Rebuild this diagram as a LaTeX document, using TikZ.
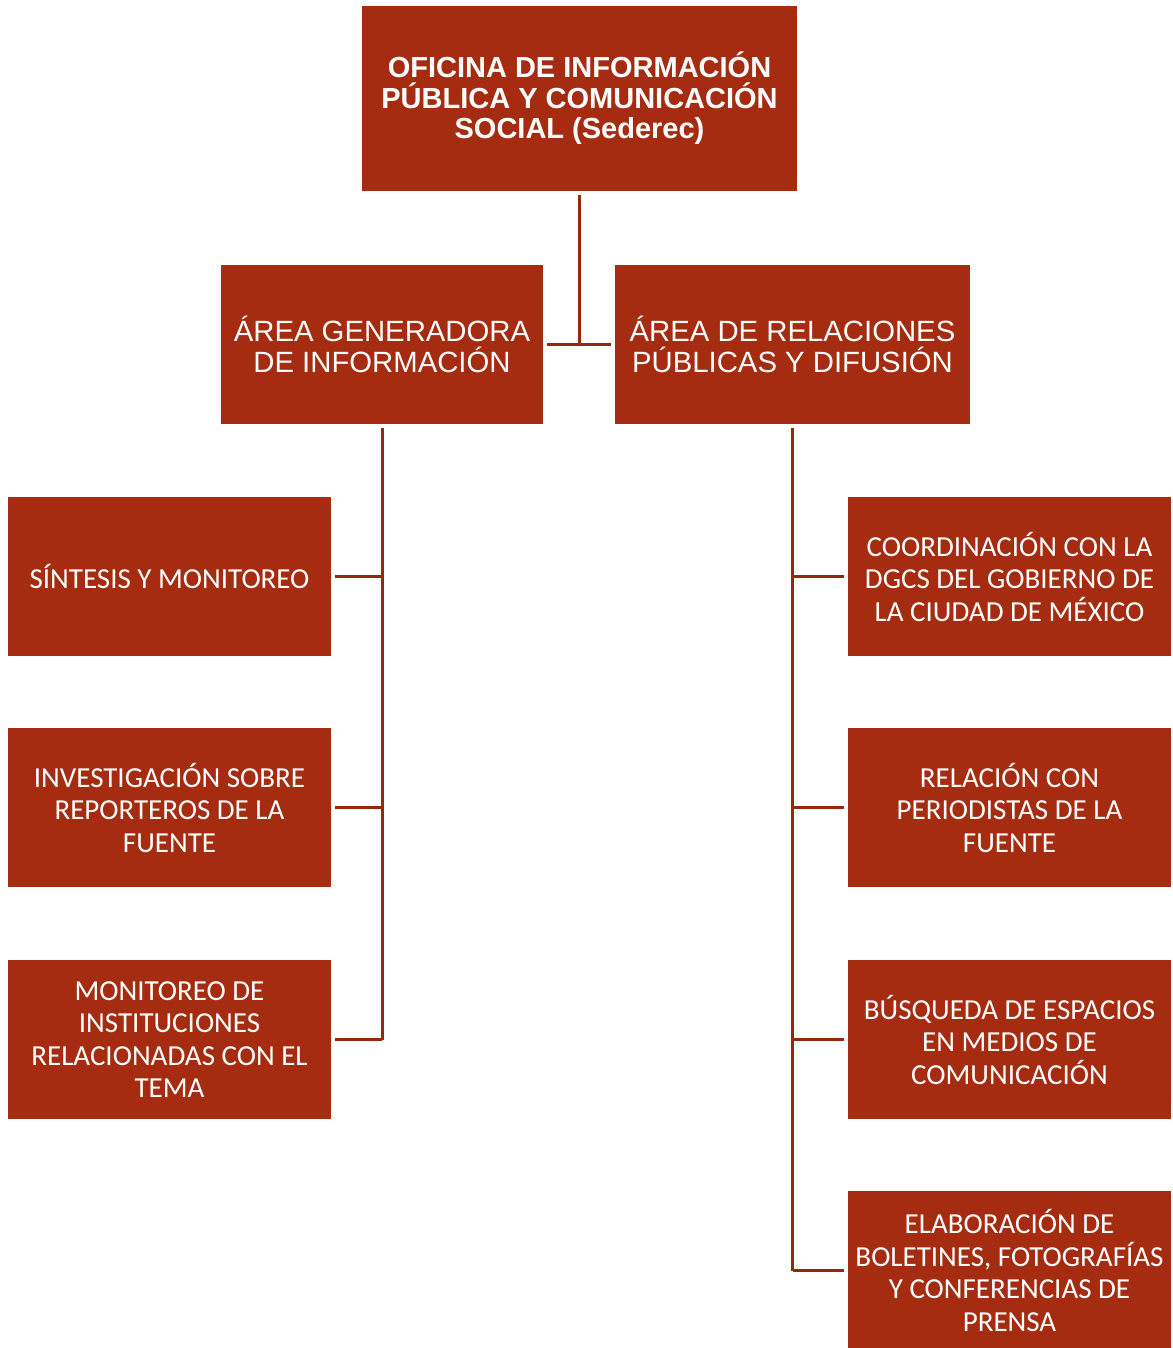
\documentclass[tikz,border=0pt]{standalone}
\usepackage{fontspec}
\setmainfont{Liberation Sans}
\newfontfamily\calib{Carlito}
\usepackage{tikz}
\definecolor{ladrillo}{RGB}{165,44,17}
\definecolor{linea}{RGB}{150,40,14}
\tikzset{
  caja/.style={rectangle,fill=ladrillo,text=white,inner sep=0pt,align=center,
    minimum width=323pt,minimum height=159pt},
  cajasub/.style={caja,font=\calib\fontsize{29}{32.5}\selectfont},
  liga/.style={draw=linea,line width=3pt}
}
\begin{document}
\begin{tikzpicture}[x=1pt,y=-1pt]
    \useasboundingbox (0,0) rectangle (1172,1348);
    %Cabeza y areas
    \node[caja,minimum width=435pt,minimum height=185pt,
      font=\bfseries\fontsize{29}{30.5}\selectfont] (ofi) at (579.5,98.5)
      {OFICINA DE INFORMACIÓN\\PÚBLICA Y COMUNICACIÓN\\SOCIAL (Sederec)};
    \node[caja,minimum width=322pt,font=\fontsize{29.3}{31}\selectfont] (gen) at (382,344.5)
      {ÁREA GENERADORA\\DE INFORMACIÓN};
    \node[caja,minimum width=355pt,font=\fontsize{29.3}{31}\selectfont] (rel) at (792.5,344.5)
      {ÁREA DE RELACIONES\\PÚBLICAS Y DIFUSIÓN};
    %Columna izquierda
    \node[cajasub] (sin) at (169.5,576.5) {SÍNTESIS Y MONITOREO};
    \node[cajasub] (inv) at (169.5,807.5) {INVESTIGACIÓN SOBRE\\REPORTEROS DE LA\\FUENTE};
    \node[cajasub] (mon) at (169.5,1039.5) {MONITOREO DE\\INSTITUCIONES\\RELACIONADAS CON EL\\TEMA};
    %Columna derecha
    \node[cajasub] (coo) at (1009.5,576.5) {COORDINACIÓN CON LA\\DGCS DEL GOBIERNO DE\\LA CIUDAD DE MÉXICO};
    \node[cajasub] (per) at (1009.5,807.5) {RELACIÓN CON\\PERIODISTAS DE LA\\FUENTE};
    \node[cajasub] (bus) at (1009.5,1039.5) {BÚSQUEDA DE ESPACIOS\\EN MEDIOS DE\\COMUNICACIÓN};
    \node[cajasub] (ela) at (1009.5,1270.5) {ELABORACIÓN DE\\BOLETINES, FOTOGRAFÍAS\\Y CONFERENCIAS DE\\PRENSA};
    %Ligas
    \draw[liga,shorten <=4pt] (ofi.south) -- (ofi.south |- gen.east);
    \draw[liga,shorten <=4pt,shorten >=4pt] (gen.east) -- (rel.west);
    \draw[liga,shorten <=4pt] (gen.south) -- (gen.south |- mon.east);
    \draw[liga,shorten <=4pt] (rel.south) -- (rel.south |- ela.west);
    \foreach \n in {sin,inv,mon}
        \draw[liga,shorten <=4pt] (\n.east) -- (\n.east -| gen.south);
    \foreach \n in {coo,per,bus,ela}
        \draw[liga,shorten <=4pt] (\n.west) -- (\n.west -| rel.south);
\end{tikzpicture}
\end{document}
